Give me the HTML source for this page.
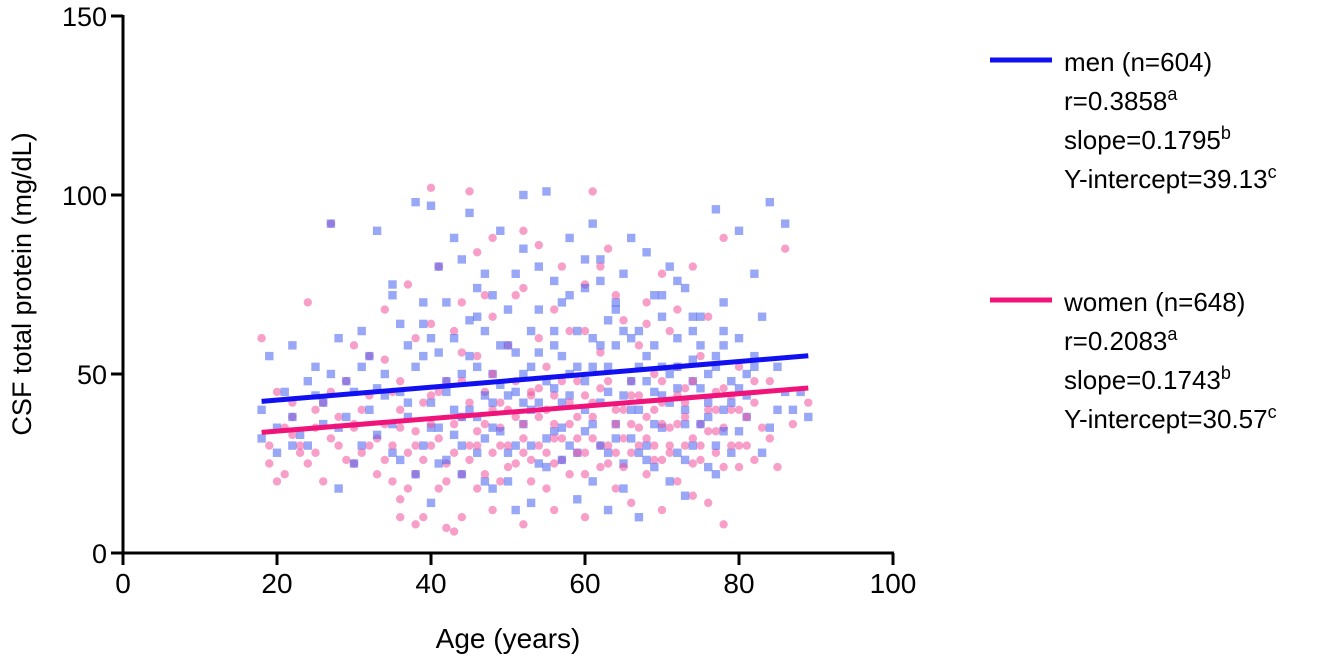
<!DOCTYPE html>
<html><head><meta charset="utf-8">
<style>
body{margin:0;background:#fff;}
svg text{font-family:"Liberation Sans",sans-serif;fill:#000;}
</style></head>
<body>
<svg id="chart" width="1320" height="662" viewBox="0 0 1320 662">
<g id="points"></g>
<g id="lines"></g>
<g id="axes"></g>
<g id="legend"></g>
</svg>
<script>
const xTicks=[0,20,40,60,80,100];
const yTicks=[0,50,100,150];
const menPts=[[18,40],[18,32],[19,55],[20,28],[21,45],[22,38],[22,58],[24,30],[25,52],[26,42],[27,92],[28,35],[29,48],[30,25],[31,62],[32,40],[33,90],[33,33],[34,50],[35,72],[35,28],[36,45],[37,58],[37,38],[38,98],[38,22],[39,64],[40,42],[40,97],[41,35],[41,80],[42,48],[42,26],[43,60],[43,40],[44,82],[44,30],[45,55],[45,95],[46,38],[46,66],[47,44],[47,20],[48,72],[48,50],[49,34],[49,90],[50,58],[50,28],[51,45],[51,78],[52,36],[52,100],[53,52],[53,30],[54,68],[54,42],[55,101],[55,24],[56,58],[56,46],[57,70],[57,35],[58,88],[58,50],[59,28],[59,62],[60,40],[60,74],[61,92],[61,52],[62,30],[62,82],[63,45],[63,65],[64,36],[64,58],[65,78],[65,25],[66,48],[66,88],[67,40],[67,62],[68,30],[68,55],[69,72],[69,45],[70,35],[70,66],[71,80],[71,50],[72,28],[72,60],[73,40],[73,74],[74,48],[74,30],[75,58],[75,66],[76,42],[76,38],[77,96],[77,55],[78,70],[78,34],[79,48],[80,60],[80,90],[81,44],[82,52],[83,66],[84,98],[85,40],[86,92],[88,45],[89,38],
[20,35],[23,33],[24,48],[26,36],[28,18],[30,45],[31,30],[32,55],[34,44],[36,26],[38,52],[39,30],[40,60],[41,25],[42,70],[43,33],[44,50],[45,40],[46,28],[47,62],[48,35],[49,47],[50,20],[51,56],[52,42],[53,62],[54,25],[55,48],[56,34],[57,55],[58,44],[59,15],[60,48],[61,36],[62,58],[63,28],[64,70],[65,44],[66,32],[67,52],[68,26],[69,58],[70,44],[71,20],[72,52],[73,36],[74,62],[75,46],[76,24],[77,52],[78,40],[79,28],[80,46],[81,38],[82,55],[84,35],[86,45],[87,40],
[22,30],[25,44],[27,50],[29,38],[33,46],[35,36],[37,42],[39,55],[40,35],[42,45],[44,38],[45,65],[46,52],[47,32],[48,42],[49,58],[50,44],[51,30],[52,50],[53,40],[54,56],[55,32],[56,62],[57,42],[58,30],[59,52],[60,34],[61,60],[62,42],[63,52],[64,32],[65,62],[66,40],[67,28],[68,48],[69,36],[70,52],[71,42],[72,46],[73,26],[74,54],[75,36],[76,50],[77,30],[78,58],[79,42],[80,34],[81,50],[83,28],[85,52],[43,88],[47,78],[52,85],[56,76],[60,82],[64,68],[68,84],[72,76],[35,75],[39,70],[46,74],[50,68],[54,80],[58,72],[62,76],[66,60],[70,72],[74,66],[78,62],[82,78],[28,60],[31,52],[36,64],[41,56],[44,22],[48,18],[53,14],[57,26],[61,20],[65,18],[69,24],[73,16],[77,22],[67,10],[63,12],[51,12],[40,14]];
const womenPts=[[18,60],[19,30],[20,45],[21,22],[22,38],[23,28],[24,70],[25,35],[26,42],[27,92],[28,30],[29,48],[30,25],[31,40],[32,55],[33,32],[34,68],[35,20],[35,45],[36,15],[36,35],[37,75],[37,28],[38,60],[38,22],[39,42],[39,10],[40,102],[40,30],[41,80],[41,18],[42,48],[42,25],[43,62],[43,6],[44,38],[44,22],[45,101],[45,30],[46,55],[46,18],[47,45],[47,72],[48,28],[48,88],[49,35],[49,20],[50,58],[50,40],[51,25],[51,72],[52,32],[52,90],[53,45],[53,20],[54,60],[54,38],[55,28],[55,52],[56,25],[56,44],[57,80],[57,32],[58,62],[58,22],[59,48],[59,38],[60,75],[60,28],[61,101],[61,42],[62,30],[62,56],[63,25],[63,85],[64,40],[64,18],[65,65],[65,32],[66,48],[66,28],[67,58],[67,35],[68,22],[68,70],[69,40],[69,30],[70,48],[70,26],[71,62],[71,35],[72,20],[72,52],[73,30],[73,42],[74,80],[74,25],[75,55],[75,36],[76,14],[76,66],[77,45],[77,28],[78,88],[78,35],[79,40],[80,24],[80,52],[81,30],[82,42],[83,35],[84,48],[86,85],[89,42],
[20,20],[21,35],[22,42],[23,30],[24,25],[25,40],[26,20],[27,32],[28,38],[29,26],[30,36],[31,28],[32,44],[33,22],[34,36],[35,30],[36,40],[37,18],[38,34],[39,26],[40,44],[41,32],[42,20],[43,36],[44,48],[45,26],[46,34],[47,22],[48,40],[49,30],[50,24],[51,38],[52,28],[53,44],[54,30],[55,18],[56,36],[57,26],[58,42],[59,32],[60,22],[61,38],[62,46],[63,30],[64,36],[65,24],[66,44],[67,30],[68,38],[69,26],[70,42],[71,30],[72,36],[73,46],[74,32],[75,26],[76,40],[77,34],[78,24],[79,44],[80,30],[81,38],[82,26],[84,32],[85,24],[87,36],
[19,25],[22,33],[25,28],[27,45],[30,35],[32,30],[34,26],[36,48],[38,30],[40,36],[41,45],[43,28],[44,56],[45,42],[46,30],[47,36],[48,50],[49,42],[50,30],[51,48],[52,36],[53,26],[54,46],[55,40],[56,32],[57,48],[58,36],[59,28],[60,44],[61,32],[62,24],[63,48],[64,28],[65,40],[66,36],[67,44],[68,32],[69,50],[70,36],[71,28],[72,44],[73,38],[74,48],[75,30],[76,34],[77,40],[78,46],[79,30],[80,40],[82,48],[36,10],[38,8],[42,7],[44,10],[48,12],[52,8],[56,12],[60,10],[66,14],[70,12],[74,16],[78,8],[40,64],[44,70],[48,66],[52,74],[56,68],[60,62],[64,72],[68,64],[72,68],[30,58],[34,54],[46,84],[54,86],[62,80],[70,78]];
const regSlope=[0.1795,0.1743];
const regIntercept=[39.13,30.57];
const regRange=[18,89];

const X=v=>123+v*7.7, Y=v=>553-v*3.58;
const NS='http://www.w3.org/2000/svg';
function mk(tag,attrs,parent){const e=document.createElementNS(NS,tag);for(const k in attrs)e.setAttribute(k,attrs[k]);parent.appendChild(e);return e;}
const P=document.getElementById('points');
const n=Math.max(menPts.length,womenPts.length);
for(let i=0;i<n;i++){
 if(i<womenPts.length){const c=mk('circle',{cx:X(womenPts[i][0]),cy:Y(womenPts[i][1]),r:4.2,fill:'rgba(240,80,155,0.55)'},P);
 
 }
 if(i<menPts.length){const s=mk('rect',{x:X(menPts[i][0])-4.2,y:Y(menPts[i][1])-4.2,width:8.4,height:8.4,fill:'rgba(70,95,240,0.55)'},P);
 
 }
}
const L=document.getElementById('lines');
const cols=['#1010f0','#f0147a'];
for(let k=0;k<2;k++){
 const l=mk('line',{x1:X(regRange[0]),y1:Y(regIntercept[k]+regSlope[k]*regRange[0]),x2:X(regRange[1]),y2:Y(regIntercept[k]+regSlope[k]*regRange[1]),stroke:cols[k],'stroke-width':5},L);
 
 
}
const A=document.getElementById('axes');
mk('line',{x1:123,y1:15,x2:123,y2:554,stroke:'#000','stroke-width':3},A);
mk('line',{x1:122,y1:553,x2:894,y2:553,stroke:'#000','stroke-width':3},A);
xTicks.forEach(t=>{mk('line',{x1:X(t),y1:553,x2:X(t),y2:565,stroke:'#000','stroke-width':3},A);
 const tx=mk('text',{x:X(t),y:593,'text-anchor':'middle','font-size':28},A);tx.textContent=t;
 
 });
yTicks.forEach(t=>{mk('line',{x1:111,y1:Y(t),x2:123,y2:Y(t),stroke:'#000','stroke-width':3},A);
 const tx=mk('text',{x:107,y:Y(t)+10,'text-anchor':'end','font-size':27},A);tx.textContent=t;
 
 });
const xt=mk('text',{x:508,y:648,'text-anchor':'middle','font-size':28},A);xt.textContent='Age (years)';

const yt=mk('text',{x:0,y:0,'text-anchor':'middle','font-size':27,transform:'translate(31,284) rotate(-90)'},A);yt.textContent='CSF total protein (mg/dL)';

const G=document.getElementById('legend');
const leg=[['men (n=604)','r=0.3858','a','slope=0.1795','b','Y-intercept=39.13','c',60],['women (n=648)','r=0.2083','a','slope=0.1743','b','Y-intercept=30.57','c',300]];
leg.forEach((d,k)=>{const y0=d[7];
 const ll=mk('line',{x1:990,y1:y0,x2:1052,y2:y0,stroke:cols[k],'stroke-width':5},G);
 
 const rows=[[d[0],''],[d[1],d[2]],[d[3],d[4]],[d[5],d[6]]];
 rows.forEach((r,j)=>{const t=mk('text',{x:1064,y:y0+11+j*39,'font-size':26},G);
  t.textContent=r[0];
  if(r[1]){const s=mk('tspan',{dy:-10,'font-size':18},t);s.textContent=r[1];}
  
  });
});
</script>
</body></html>
